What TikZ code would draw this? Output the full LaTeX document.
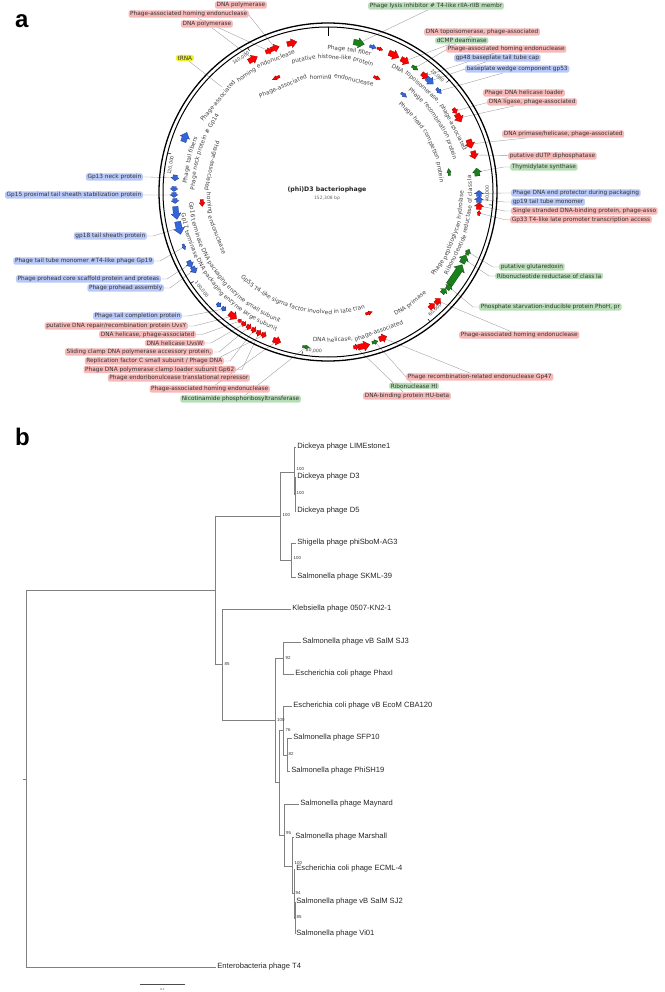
\documentclass[tikz,border=0pt]{standalone}
\usepackage{fontspec}
\setmainfont{DejaVu Sans}
\newfontfamily\treefont{Liberation Sans}
\pgfdeclarelayer{background}
\pgfsetlayers{background,main}

\definecolor{gred}{RGB}{255,0,0}
\definecolor{gblue}{RGB}{51,102,221}
\definecolor{ggreen}{RGB}{26,128,26}
\definecolor{lred}{RGB}{248,184,184}
\definecolor{lblue}{RGB}{184,200,248}
\definecolor{lgreen}{RGB}{184,222,184}
\definecolor{lyellow}{RGB}{240,240,40}

\newcommand\arcfont{\fontsize{5.8}{6}\selectfont}

\tikzset{
 ar/.style={fill=gred, draw=gred!55!black, line width=0.25pt},
 ab/.style={fill=gblue, draw=gblue!55!black, line width=0.25pt},
 ag/.style={fill=ggreen, draw=ggreen!50!black, line width=0.25pt},
 labbox/.style={rounded corners=2.2pt, inner xsep=1.6pt, inner ysep=0.9pt, font=\fontsize{5.8}{6.5}\selectfont, text=black!80},
 lr/.style={labbox, fill=lred}, lb/.style={labbox, fill=lblue},
 lgr/.style={labbox, fill=lgreen}, ly/.style={labbox, fill=lyellow},
 conn/.style={draw=black!40, line width=0.35pt},
 treeline/.style={draw=black!50, line width=0.6pt},
 leaflab/.style={font=\treefont\fontsize{7.6}{8}\selectfont, text=black!85, inner xsep=1.2pt, inner ysep=0pt, anchor=west},
 bootlab/.style={font=\treefont\fontsize{4.4}{4.6}\selectfont, text=black!80, inner sep=0.5pt, anchor=west},
 poslab/.style={font=\fontsize{4.6}{5}\selectfont, text=black!75, inner sep=0pt},
 arcword/.style={font=\arcfont, text=black!75, inner sep=0pt, anchor=base},
}

% gene arrow from image coordinates: name, style, x, y, length, half width, dir (1 cw, -1 ccw)
\newcommand\genearrow[7]{%
 \pgfmathsetmacro\gnA{atan2(192-#4,#3-328)}%
 \pgfmathsetmacro\gnR{veclen(#3-328,192-#4)}%
 \pgfmathsetmacro\gnD{#5/\gnR*28.6479}%
 \pgfmathsetmacro\gnT{\gnA+(#7)*\gnD}%
 \pgfmathsetmacro\gnH{\gnA-(#7)*\gnD}%
 \pgfmathsetmacro\gnK{\gnH+(#7)*min(1.1*\gnD,6/\gnR*57.2958)}%
 \pgfmathsetmacro\gnI{\gnR-0.55*#6}%
 \pgfmathsetmacro\gnO{\gnR+0.55*#6}%
 \pgfmathsetmacro\gnII{\gnR-#6}%
 \pgfmathsetmacro\gnOO{\gnR+#6}%
 \path[#2] (\gnT:\gnI) -- (\gnT:\gnO) -- (\gnK:\gnO) -- (\gnK:\gnOO) -- (\gnH:\gnR) -- (\gnK:\gnII) -- (\gnK:\gnI) -- cycle;
 \coordinate (#1) at (\gnA:\gnR);
}

% curved text, word by word: name, baseline radius, mid angle, dir (1 cw, -1 ccw), word list
\newdimen\cwTot \newdimen\cwPos \newdimen\cwTmp \newdimen\cwSp
\newbox\cwBox
\newcommand\cwmeasure[1]{%
 \pgfinterruptpicture\setbox\cwBox=\hbox{\arcfont #1}\global\cwTmp=\wd\cwBox\relax\endpgfinterruptpicture}
\newcommand\curvewords[5]{%
 \cwmeasure{\ }\global\cwSp=\cwTmp\relax
 \global\cwTot=0pt\relax
 \foreach \cw in {#5}{\cwmeasure{\cw}\global\advance\cwTot by \cwTmp\relax\global\advance\cwTot by \cwSp\relax}%
 \global\advance\cwTot by -\cwSp\relax
 \global\cwPos=0pt\relax
 \foreach \cw [count=\cwi] in {#5}{%
   \cwmeasure{\cw}%
   \pgfmathsetmacro\cwAng{#3+(#4)*(0.5*\the\cwTot-\the\cwPos-0.5*\the\cwTmp)/#2*57.29578}%
   \pgfmathsetmacro\cwRot{\cwAng-(#4)*90}%
   \node[arcword, rotate=\cwRot] (#1-\cwi) at (\cwAng:#2) {\cw};
   \global\advance\cwPos by \cwTmp\relax
   \global\advance\cwPos by \cwSp\relax
 }%
}

% position label: name, tick angle, rotation, text
\newcommand\poslabel[4]{%
 \pgfmathsetmacro\plA{#2+4}%
 \draw[black, line width=0.5pt] (#2:165.5) -- (#2:161.5);
 \node[poslab, rotate=#3] (#1) at (\plA:159.5) {#4};
}

\begin{document}
\begin{tikzpicture}[x=1pt,y=1pt]
\useasboundingbox (0,0) rectangle (664,-992);

% ---------------- panel a ----------------
\node[font=\treefont\bfseries\fontsize{24}{24}\selectfont, anchor=base west, inner sep=0pt] (pa) at (15,-28) {a};

\begin{scope}[shift={(328,-192)}]
 \draw[line width=1.3pt] (0,0) circle[radius=169];
 \draw[line width=1pt] (0,0) circle[radius=165];
 \draw[line width=0.8pt] (90:165) -- (90:156);
 \poslabel{p20}{42.73}{-43.27}{20,000}
 \poslabel{p40}{-4.55}{89.45}{40,000}
 \poslabel{p60}{-51.82}{42.18}{60,000}
 \poslabel{p80}{-99.1}{-5.1}{80,000}
 \poslabel{p100}{-146.37}{-52.37}{100,000}
 \poslabel{p120}{166.35}{80.35}{120,000}
 \poslabel{p140}{119.08}{33.08}{140,000}

 % inner curved labels
 \curvewords{t1}{142}{81.4}{1}{Phage,tail,fiber}
 \curvewords{t2}{133}{88}{1}{putative,histone-like,protein}
 \curvewords{t3}{141}{127}{1}{Phage-associated,homing,endonuclease}
 \curvewords{t4}{113}{96.4}{1}{Phage-associated,homing,endonuclease}
 \curvewords{t5}{139.5}{40}{1}{DNA,{topoisomerase,},phage-associated}
 \curvewords{t6}{129}{33}{1}{Phage,recombination,protein}
 \curvewords{t7}{112}{28}{1}{Phage,head,completion,protein}
 \curvewords{t8}{144}{-14}{-1}{Ribonucleotide,reductase,of,class,Ia}
 \curvewords{t9}{135}{-19}{-1}{Phage,peptidoglycan,hydrolase}
 \curvewords{t10}{141}{-53.6}{-1}{DNA,primase}
 \curvewords{t11}{150}{-78}{-1}{DNA,{helicase,},phage-associated}
 \curvewords{t12}{122}{256}{-1}{Gp55,T4-like,sigma,factor,involved,in,late,tran}
 \curvewords{t13}{139}{217}{-1}{Gp16,terminase,DNA,packaging,enzyme,small,subunit}
 \curvewords{t14}{148}{219}{-1}{Gp17,terminase,DNA,packaging,enzyme,large,subunit}
 \curvewords{t15}{121}{183}{-1}{Phage-associated,homing,endonuclease}
 \curvewords{t16}{141}{167}{1}{Phage,tail,fibers}
 \curvewords{t17}{133}{162}{1}{Phage,neck,protein,\#,Gp14}

 % genes, top
 \genearrow{g1}{ar}{275}{48}{9}{4}{1}
 \genearrow{g2}{ar}{269}{51}{7}{3.5}{1}
 \genearrow{g3}{ar}{253}{59}{10}{4.5}{1}
 \genearrow{gx1}{ar}{292}{43}{10}{4.5}{1}
 \genearrow{gx2}{ar}{276}{78}{8}{2.2}{-1}
 \genearrow{gx3}{ab}{185}{137}{10}{5}{1}
 \coordinate (g4) at (-106,105);
 \genearrow{g5}{ag}{359}{43}{11}{5}{1}
 \genearrow{gx4}{ab}{373}{47}{7}{2.5}{1}
 \genearrow{gx5}{ar}{380}{49}{6}{2}{1}
 \genearrow{gx6}{ar}{394}{55}{11}{5}{1}
 \genearrow{g6}{ar}{405}{61}{9}{4.5}{1}
 \genearrow{g7}{ag}{415}{68}{7}{2.5}{1}
 \genearrow{g8}{ar}{425}{76}{8}{4}{1}
 \genearrow{g9}{ab}{430}{81}{9}{4.5}{1}
 \genearrow{g10}{ab}{439}{91}{7}{2.5}{1}
 \genearrow{gx7}{ar}{377}{78}{7}{2.2}{1}
 \genearrow{gx8}{ab}{404}{95}{7}{2.2}{1}
 \genearrow{g11}{ar}{455}{111}{6}{3}{1}
 \genearrow{g12}{ar}{459}{118}{9}{5}{1}
 \genearrow{g13}{ar}{470}{144}{9}{5}{1}
 \genearrow{g14}{ar}{474}{155}{8}{4.5}{1}
 % right
 \genearrow{g35}{ag}{477}{172}{8}{4.5}{-1}
 \genearrow{gx9}{ag}{449}{172}{7}{2.2}{-1}
 \genearrow{g36}{ab}{479}{193.5}{6}{4.5}{-1}
 \genearrow{g37}{ab}{479}{199.5}{6}{4.5}{-1}
 \genearrow{g38}{ar}{479}{206}{7}{4.5}{-1}
 \genearrow{g39}{ar}{479}{213}{5}{2}{-1}
 \genearrow{g40}{ag}{468}{252}{6}{3}{-1}
 \genearrow{g41}{ag}{464}{259}{9}{5}{-1}
 \genearrow{gx10}{ag}{456}{275}{24}{6}{-1}
 \genearrow{g42}{ag}{449}{287}{6}{4}{-1}
 \genearrow{gx11}{ag}{444}{291}{6}{4}{-1}
 % bottom
 \genearrow{gx12}{ar}{432}{306}{7}{4}{-1}
 \genearrow{g31}{ar}{438}{301}{7}{4}{-1}
 \genearrow{g32}{ar}{383}{338}{8}{4.5}{-1}
 \genearrow{g33}{ag}{375}{342}{6}{2.5}{-1}
 \genearrow{gx13}{ar}{364}{346}{12}{5}{-1}
 \genearrow{g34}{ar}{356}{347}{5}{3}{-1}
 \genearrow{gx14}{ar}{369}{313}{7}{2.2}{-1}
 \genearrow{g30}{ag}{306}{347}{7}{2}{-1}
 \genearrow{g29}{ar}{277}{341}{8}{4.5}{-1}
 \genearrow{g28}{ar}{264}{335}{5}{3.5}{-1}
 \genearrow{g27}{ar}{259}{333}{5}{3.5}{-1}
 \genearrow{g26}{ar}{254}{330}{5}{3.5}{-1}
 \genearrow{g25}{ar}{249}{327}{5}{3.5}{-1}
 \genearrow{g24}{ar}{244}{324}{5}{3}{-1}
 \genearrow{g23}{ar}{240}{321}{4}{2.2}{-1}
 \genearrow{g22}{ar}{233}{316}{9}{5}{-1}
 \genearrow{g21}{ab}{224}{309}{5}{3}{-1}
 \genearrow{gx15}{ab}{219}{305}{5}{3}{-1}
 % left
 \genearrow{g15}{ab}{175}{178}{6}{4}{-1}
 \genearrow{gx16}{ab}{174}{189}{5}{4}{-1}
 \genearrow{g16}{ab}{174}{195}{5}{4}{-1}
 \genearrow{gx17}{ab}{175}{201}{5}{4}{-1}
 \genearrow{gx18}{ab}{176}{213}{13}{5}{-1}
 \genearrow{g17}{ab}{179}{228}{13}{5.5}{-1}
 \genearrow{g18}{ab}{184}{247}{6}{2}{-1}
 \genearrow{g19}{ab}{190}{264}{7}{4}{-1}
 \genearrow{g20}{ab}{194}{270}{7}{4}{-1}
 \genearrow{gx19}{ar}{202}{203}{7}{3}{-1}
\end{scope}

\node[font=\bfseries\fontsize{6.2}{7}\selectfont, text=black!85] (title) at (327,-190) {(phi)D3 bacteriophage};
\node[font=\fontsize{4.5}{5}\selectfont, text=black!60] (bp) at (327,-198.5) {152,308 bp};

% labels
\node[lr, anchor=east] (L1) at (267,-5) {DNA polymerase};
\node[lr, anchor=east] (L2) at (249,-14) {Phage-associated homing endonuclease};
\node[lr, anchor=east] (L3) at (233,-24) {DNA polymerase};
\node[ly, anchor=east] (L4) at (194,-58) {tRNA};
\node[lgr, anchor=west] (L5) at (368,-6) {Phage lysis inhibitor \# T4-like rIIA-rIIB membr};
\node[lr, anchor=west] (L6) at (424,-32) {DNA topoisomerase, phage-associated};
\node[lgr, anchor=west] (L7) at (435,-40.5) {dCMP deaminase};
\node[lr, anchor=west] (L8) at (446,-49) {Phage-associated homing endonuclease};
\node[lb, anchor=west] (L9) at (454,-58) {gp48 baseplate tail tube cap};
\node[lb, anchor=west] (L10) at (465,-69) {baseplate wedge component gp53};
\node[lr, anchor=west] (L11) at (483,-93) {Phage DNA helicase loader};
\node[lr, anchor=west] (L12) at (487,-102) {DNA ligase, phage-associated};
\node[lr, anchor=west] (L13) at (502,-134) {DNA primase/helicase, phage-associated};
\node[lr, anchor=west] (L14) at (508,-156) {putative dUTP diphosphatase};
\node[lgr, anchor=west] (L35) at (510,-167) {Thymidylate synthase};
\node[lb, anchor=west] (L36) at (511,-193) {Phage DNA end protector during packaging};
\node[lb, anchor=west] (L37) at (511,-202) {gp19 tail tube monomer};
\node[lr, anchor=west] (L38) at (511,-211) {Single stranded DNA-binding protein, phage-asso};
\node[lr, anchor=west] (L39) at (510,-219.5) {Gp33 T4-like late promoter transcription access};
\node[lgr, anchor=west] (L40) at (499,-267) {putative glutaredoxin};
\node[lgr, anchor=west] (L41) at (495,-276) {Ribonucleotide reductase of class Ia};
\node[lgr, anchor=west] (L42) at (479,-307) {Phosphate starvation-inducible protein PhoH, pr};
\node[lr, anchor=west] (L31) at (459,-335) {Phage-associated homing endonuclease};
\node[lr, anchor=west] (L32) at (406,-377) {Phage recombination-related endonuclease Gp47};
\node[lgr, anchor=west] (L33) at (389,-386) {Ribonuclease HI};
\node[lr, anchor=west] (L34) at (363,-396) {DNA-binding protein HU-beta};
\node[lgr, anchor=east] (L30) at (301,-399) {Nicotinamide phosphoribosyltransferase};
\node[lr, anchor=east] (L29) at (270,-389) {Phage-associated homing endonuclease};
\node[lr, anchor=east] (L28) at (250,-378) {Phage endoribonulcease translational repressor};
\node[lr, anchor=east] (L27) at (236,-369.5) {Phage DNA polymerase clamp loader subunit Gp62};
\node[lr, anchor=east] (L26) at (224,-361) {Replication factor C small subunit / Phage DNA};
\node[lr, anchor=east] (L25) at (213,-352) {Sliding clamp DNA polymerase accessory protein,};
\node[lr, anchor=east] (L24) at (205,-343) {DNA helicase UvsW};
\node[lr, anchor=east] (L23) at (196,-334.5) {DNA helicase, phage-associated};
\node[lr, anchor=east] (L22) at (188,-326) {putative DNA repair/recombination protein UvsY};
\node[lb, anchor=east] (L21) at (182,-316) {Phage tail completion protein};
\node[lb, anchor=east] (L20) at (164,-288) {Phage prohead assembly};
\node[lb, anchor=east] (L19) at (161,-279) {Phage prohead core scaffold protein and proteas};
\node[lb, anchor=east] (L18) at (154,-261) {Phage tail tube monomer \#T4-like phage Gp19};
\node[lb, anchor=east] (L17) at (147,-236) {gp18 tail sheath protein};
\node[lb, anchor=east] (L16) at (143,-195) {Gp15 proximal tail sheath stabilization protein};
\node[lb, anchor=east] (L15) at (143,-177) {Gp13 neck protein};

\begin{pgfonlayer}{background}
 \foreach \lb/\gb in {L1/g1,L2/g2,L3/g3,L4/g4,L5/g5,L6/g6,L7/g7,L8/g8,L9/g9,L10/g10,L11/g11,L12/g12,L13/g13,L14/g14,L29/g29,L30/g30,L28/g28,L31/g31,L32/g32,L33/g33,L34/g34}
  {\draw[conn] (\lb) -- (\gb);}
 \foreach \lb/\gb in {L35/g35,L36/g36,L37/g37,L38/g38,L39/g39,L40/g40,L41/g41,L42/g42}
  {\draw[conn] (\lb.west) -- ++(-6,0) -- (\gb);}
 \foreach \lb/\gb in {L15/g15,L16/g16,L17/g17,L18/g18,L19/g19,L20/g20,L21/g21,L22/g22,L23/g23,L24/g24,L25/g25,L26/g26,L27/g27}
  {\draw[conn] (\lb.east) -- ++(6,0) -- (\gb);}
\end{pgfonlayer}

% ---------------- panel b ----------------
\node[font=\treefont\bfseries\fontsize{24}{24}\selectfont, anchor=base west, inner sep=0pt] (pb) at (15,-445) {b};

\coordinate (R) at (26,-779);
\coordinate (Rs) at (23,-779);
\coordinate (n1) at (215,-590);
\coordinate (N1) at (280,-516);
\coordinate (DK) at (294.5,-472);
\coordinate (D35) at (295,-494);
\coordinate (SH) at (291,-560);
\coordinate (N85) at (222,-664);
\coordinate (NB) at (275,-720);
\coordinate (N92) at (283,-658);
\coordinate (NC) at (279,-782);
\coordinate (NA) at (283,-730);
\coordinate (SP) at (287,-755);
\coordinate (NBB) at (284,-835);
\coordinate (NM) at (292,-866);
\coordinate (N94) at (294,-893);
\coordinate (N85b) at (295,-918);

\node[leaflab] (lLIME) at (296,-447) {Dickeya phage LIMEstone1};
\node[leaflab] (lD3) at (296,-477) {Dickeya phage D3};
\node[leaflab] (lD5) at (296,-511) {Dickeya phage D5};
\node[leaflab] (lShig) at (296,-543) {Shigella phage phiSboM-AG3};
\node[leaflab] (lSKML) at (296,-577) {Salmonella phage SKML-39};
\node[leaflab] (lKleb) at (291,-609) {Klebsiella phage 0507-KN2-1};
\node[leaflab] (lSJ3) at (301,-642) {Salmonella phage vB SalM SJ3};
\node[leaflab] (lPhax) at (294,-674) {Escherichia coli phage PhaxI};
\node[leaflab] (lCBA) at (292,-706) {Escherichia coli phage vB EcoM CBA120};
\node[leaflab] (lSFP) at (292,-738) {Salmonella phage SFP10};
\node[leaflab] (lPhiSH) at (290,-771) {Salmonella phage PhiSH19};
\node[leaflab] (lMay) at (299,-804) {Salmonella phage Maynard};
\node[leaflab] (lMar) at (294,-837) {Salmonella phage Marshall};
\node[leaflab] (lECML) at (295,-869) {Escherichia coli phage ECML-4};
\node[leaflab] (lSJ2) at (295,-902) {Salmonella phage vB SalM SJ2};
\node[leaflab] (lVi) at (295,-934) {Salmonella phage Vi01};
\node[leaflab] (lT4) at (216,-967) {Enterobacteria phage T4};

\draw[treeline] (Rs) -- (R);
\draw[treeline] (R) |- (n1);
\draw[treeline] (R) |- (lT4.west);
\draw[treeline] (n1) |- (N1);
\draw[treeline] (n1) |- (N85);
\draw[treeline] (N1) |- (DK);
\draw[treeline] (N1) |- (SH);
\draw[treeline] (DK) |- (lLIME.west);
\draw[treeline] (DK) |- (D35);
\draw[treeline] (D35) |- (lD3.west);
\draw[treeline] (D35) |- (lD5.west);
\draw[treeline] (SH) |- (lShig.west);
\draw[treeline] (SH) |- (lSKML.west);
\draw[treeline] (N85) |- (lKleb.west);
\draw[treeline] (N85) |- (NB);
\draw[treeline] (NB) |- (N92);
\draw[treeline] (NB) |- (NC);
\draw[treeline] (N92) |- (lSJ3.west);
\draw[treeline] (N92) |- (lPhax.west);
\draw[treeline] (NC) |- (NA);
\draw[treeline] (NC) |- (NBB);
\draw[treeline] (NA) |- (lCBA.west);
\draw[treeline] (NA) |- (SP);
\draw[treeline] (SP) |- (lSFP.west);
\draw[treeline] (SP) |- (lPhiSH.west);
\draw[treeline] (NBB) |- (lMay.west);
\draw[treeline] (NBB) |- (NM);
\draw[treeline] (NM) |- (lMar.west);
\draw[treeline] (NM) |- (N94);
\draw[treeline] (N94) |- (lECML.west);
\draw[treeline] (N94) |- (N85b);
\draw[treeline] (N85b) |- (lSJ2.west);
\draw[treeline] (N85b) |- (lVi.west);

\node[bootlab] (bN1) at (282,-515) {100};
\node[bootlab] (bDK) at (296,-469) {100};
\node[bootlab] (bD35) at (296,-493) {100};
\node[bootlab] (bSH) at (293,-558) {100};
\node[bootlab] (bN85) at (224,-664) {85};
\node[bootlab] (bNB) at (276.5,-720) {100};
\node[bootlab] (bN92) at (285,-658) {92};
\node[bootlab] (bNA) at (285,-730) {76};
\node[bootlab] (bSP) at (288,-754) {82};
\node[bootlab] (bNBB) at (285.5,-833) {95};
\node[bootlab] (bNM) at (294,-863) {100};
\node[bootlab] (bN94) at (295,-893) {94};
\node[bootlab] (bN85b) at (296,-917) {85};

\coordinate (sb1) at (140,-984);
\coordinate (sb2) at (185,-984);
\draw[line width=0.7pt, black!70] (sb1) -- (sb2);
\node[font=\treefont\fontsize{3}{3}\selectfont, text=black!70, inner sep=0pt] (sbl) at (162.5,-989) {0.1};
\end{tikzpicture}
\end{document}
